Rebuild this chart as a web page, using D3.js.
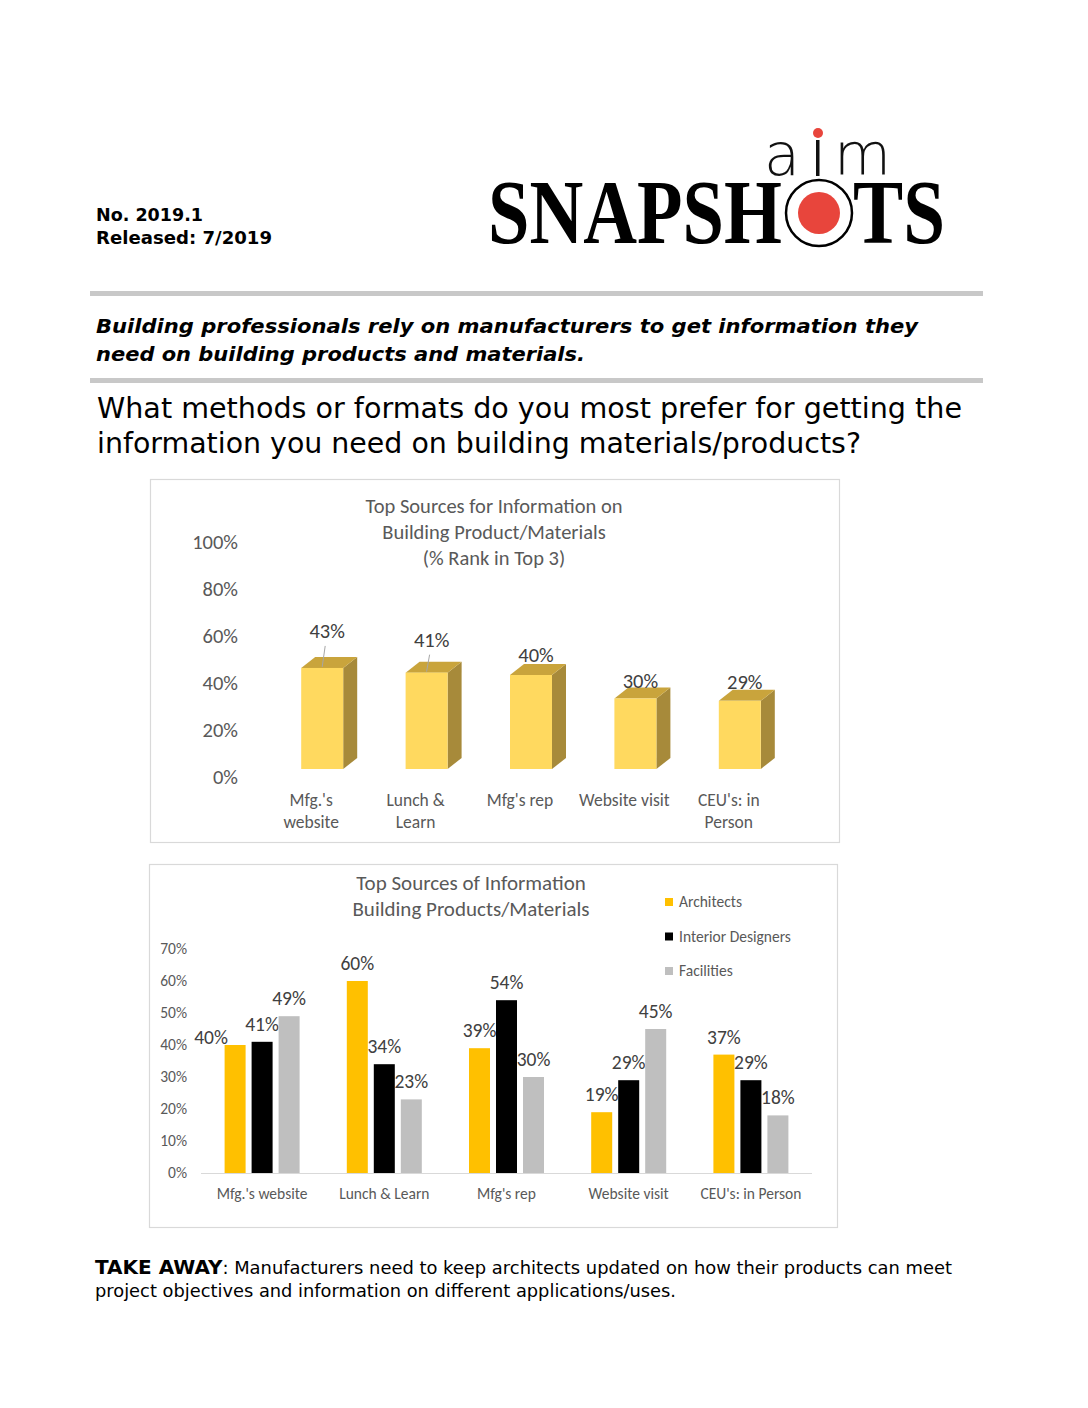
<!DOCTYPE html>
<html>
<head>
<meta charset="utf-8">
<script src="https://cdn.jsdelivr.net/npm/d3@7"></script>
<style>
  html, body { margin: 0; padding: 0; background: #fff; }
  svg { display: block; }
</style>
</head>
<body>
<svg id="page" width="1088" height="1408"></svg>
<script>
// ---------------- DATA ----------------
const chart1Title = ["Top Sources for Information on", "Building Product/Materials", "(% Rank in Top 3)"];
const chart1Categories = [["Mfg.'s", "website"], ["Lunch &", "Learn"], ["Mfg's rep"], ["Website visit"], ["CEU's: in", "Person"]];
const chart1Values = [0.43, 0.41, 0.40, 0.30, 0.29];
const chart1Ticks = [0, 0.2, 0.4, 0.6, 0.8, 1.0];

const chart2Title = ["Top Sources of Information", "Building Products/Materials"];
const chart2Categories = ["Mfg.'s website", "Lunch & Learn", "Mfg's rep", "Website visit", "CEU's: in Person"];
const seriesNames = ["Architects", "Interior Designers", "Facilities"];
const architects = [0.40, 0.60, 0.39, 0.19, 0.37];
const interiorDesigners = [0.41, 0.34, 0.54, 0.29, 0.29];
const facilities = [0.49, 0.23, 0.30, 0.45, 0.18];
const chart2Ticks = [0, 0.1, 0.2, 0.3, 0.4, 0.5, 0.6, 0.7];

const seriesColors = ["#FFC000", "#000000", "#BFBFBF"];

// ---------------- PAGE ----------------
const svg = d3.select("#page");
const verdana = "Verdana, 'DejaVu Sans', sans-serif";
const calibri = "Carlito, Calibri, Lato, 'Open Sans', sans-serif";

// Header left
svg.append("text").attr("x", 96).attr("y", 221).attr("font-family", verdana)
  .attr("font-weight", "bold").attr("font-size", 17).attr("fill", "#000")
  .attr("textLength", 107).attr("lengthAdjust", "spacingAndGlyphs").text("No. 2019.1");
svg.append("text").attr("x", 96).attr("y", 244).attr("font-family", verdana)
  .attr("font-weight", "bold").attr("font-size", 17).attr("fill", "#000")
  .attr("textLength", 176).attr("lengthAdjust", "spacingAndGlyphs").text("Released: 7/2019");

// Logo
const logo = svg.append("g");
logo.append("text").attr("x", 764).attr("y", 175).attr("font-family", "'DejaVu Sans', sans-serif")
  .attr("font-weight", 200).attr("font-size", 58).attr("fill", "#111")
  .attr("textLength", 36).attr("lengthAdjust", "spacingAndGlyphs").text("a");
logo.append("rect").attr("x", 816).attr("y", 140).attr("width", 3.5).attr("height", 36).attr("fill", "#111");
logo.append("circle").attr("cx", 818).attr("cy", 133).attr("r", 5).attr("fill", "#E8453C");
logo.append("text").attr("x", 834).attr("y", 175).attr("font-family", "'DejaVu Sans', sans-serif")
  .attr("font-weight", 200).attr("font-size", 58).attr("fill", "#111")
  .attr("textLength", 57).attr("lengthAdjust", "spacingAndGlyphs").text("m");
logo.append("text").attr("x", 488).attr("y", 243).attr("font-family", "'Liberation Serif', 'DejaVu Serif', serif")
  .attr("font-weight", "bold").attr("font-size", 92).attr("fill", "#000")
  .attr("textLength", 294).attr("lengthAdjust", "spacingAndGlyphs").text("SNAPSH");
logo.append("text").attr("x", 853).attr("y", 243).attr("font-family", "'Liberation Serif', 'DejaVu Serif', serif")
  .attr("font-weight", "bold").attr("font-size", 92).attr("fill", "#000")
  .attr("textLength", 92).attr("lengthAdjust", "spacingAndGlyphs").text("TS");
logo.append("circle").attr("cx", 819).attr("cy", 213).attr("r", 33).attr("fill", "none")
  .attr("stroke", "#000").attr("stroke-width", 2.5);
logo.append("circle").attr("cx", 819).attr("cy", 213).attr("r", 21).attr("fill", "#E8453C");

// Rules
svg.append("rect").attr("x", 90).attr("y", 291).attr("width", 893).attr("height", 5).attr("fill", "#C8C8C8");
svg.append("rect").attr("x", 90).attr("y", 378).attr("width", 893).attr("height", 5).attr("fill", "#C8C8C8");

// Intro bold italic
svg.append("text").attr("x", 96).attr("y", 333).attr("font-family", verdana).attr("font-weight", "bold")
  .attr("font-style", "italic").attr("font-size", 20).attr("textLength", 822).attr("lengthAdjust", "spacingAndGlyphs")
  .text("Building professionals rely on manufacturers to get information they");
svg.append("text").attr("x", 96).attr("y", 361).attr("font-family", verdana).attr("font-weight", "bold")
  .attr("font-style", "italic").attr("font-size", 20).attr("textLength", 489).attr("lengthAdjust", "spacingAndGlyphs")
  .text("need on building products and materials.");

// Question
svg.append("text").attr("x", 97).attr("y", 418).attr("font-family", verdana)
  .attr("font-size", 28).attr("textLength", 865).attr("lengthAdjust", "spacingAndGlyphs")
  .text("What methods or formats do you most prefer for getting the");
svg.append("text").attr("x", 97).attr("y", 453).attr("font-family", verdana)
  .attr("font-size", 28).attr("textLength", 764).attr("lengthAdjust", "spacingAndGlyphs")
  .text("information you need on building materials/products?");

// ---------------- CHART 1 (3D columns) ----------------
const c1 = svg.append("g");
c1.append("rect").attr("x", 150.5).attr("y", 479.5).attr("width", 689).attr("height", 363)
  .attr("fill", "#fff").attr("stroke", "#D9D9D9").attr("stroke-width", 1.2);

chart1Title.forEach((t, i) => {
  c1.append("text").attr("x", 494).attr("y", 513 + i * 26).attr("text-anchor", "middle")
    .attr("font-family", calibri).attr("font-size", 20.5).attr("fill", "#595959").text(t);
});

const y1 = d3.scaleLinear().domain([0, 1]).range([769, 534]);
const x1 = d3.scalePoint().domain(d3.range(chart1Values.length)).range([270, 792]).padding(0.5);
const frontW = 42, depthX = 14, depthY = 11;

// axis (labels only), offset a little below floor as in 3D projection
const ax1 = c1.append("g").attr("transform", "translate(238,8)")
  .call(d3.axisLeft(y1).tickValues(chart1Ticks).tickFormat(d3.format(".0%")).tickSize(0).tickPadding(0));
ax1.select(".domain").remove();
ax1.selectAll("text").attr("font-family", calibri).attr("font-size", 20.5).attr("fill", "#595959");

const bars1 = c1.selectAll("g.bar3d").data(chart1Values).join("g").attr("class", "bar3d");
bars1.each(function(v, i) {
  const g = d3.select(this);
  const xl = x1(i) - frontW / 2, xr = xl + frontW;
  const yt = y1(v), yb = y1(0);
  g.append("path").attr("d", `M${xr},${yb} L${xr + depthX},${yb - depthY} L${xr + depthX},${yt - depthY} L${xr},${yt} Z`)
    .attr("fill", "#A78A3A");
  g.append("path").attr("d", `M${xl},${yt} L${xl + depthX},${yt - depthY} L${xr + depthX},${yt - depthY} L${xr},${yt} Z`)
    .attr("fill", "#C9A43C");
  g.append("rect").attr("x", xl).attr("y", yt).attr("width", frontW).attr("height", yb - yt).attr("fill", "#FFD95F");
});

// value labels (Excel moved the first two up with leader lines)
const c1LabelLift = [30, 26, 13, 11, 12];
chart1Values.forEach((v, i) => {
  const cx = x1(i) + 5;
  const ly = y1(v) - c1LabelLift[i];
  if (c1LabelLift[i] > 20) {
    c1.append("line").attr("x1", cx - 2).attr("y1", ly + 8).attr("x2", x1(i)).attr("y2", y1(v) - 1)
      .attr("stroke", "#A6A6A6").attr("stroke-width", 1);
  }
  c1.append("text").attr("x", cx).attr("y", ly).attr("text-anchor", "middle")
    .attr("font-family", calibri).attr("font-size", 20.5).attr("fill", "#404040").text(d3.format(".0%")(v));
});

// category labels
chart1Categories.forEach((lines, i) => {
  lines.forEach((t, j) => {
    c1.append("text").attr("x", x1(i) - 11).attr("y", 806 + j * 22).attr("text-anchor", "middle")
      .attr("font-family", calibri).attr("font-size", 17.5).attr("fill", "#595959").text(t);
  });
});

// ---------------- CHART 2 (clustered columns) ----------------
const c2 = svg.append("g");
c2.append("rect").attr("x", 149.5).attr("y", 864.5).attr("width", 688).attr("height", 363)
  .attr("fill", "#fff").attr("stroke", "#D9D9D9").attr("stroke-width", 1.2);

chart2Title.forEach((t, i) => {
  c2.append("text").attr("x", 471).attr("y", 890 + i * 26).attr("text-anchor", "middle")
    .attr("font-family", calibri).attr("font-size", 21).attr("fill", "#595959").text(t);
});

const y2 = d3.scaleLinear().domain([0, 0.7]).range([1173, 949]);
const x2 = d3.scaleBand().domain(chart2Categories).range([201, 812]);
const xs = d3.scaleBand().domain(seriesNames).range([0, 75]).paddingInner(0.222);

const ax2 = c2.append("g").attr("transform", "translate(187,0)")
  .call(d3.axisLeft(y2).tickValues(chart2Ticks).tickFormat(d3.format(".0%")).tickSize(0).tickPadding(0));
ax2.select(".domain").remove();
ax2.selectAll("text").attr("font-family", calibri).attr("font-size", 15.5).attr("fill", "#595959");

c2.append("line").attr("x1", 201).attr("x2", 812).attr("y1", y2(0) + 0.5).attr("y2", y2(0) + 0.5)
  .attr("stroke", "#D9D9D9").attr("stroke-width", 1);

const seriesData = [architects, interiorDesigners, facilities];
// small Excel-style label nudge for the first label (avoids overlap)
const labelNudgeX = { "0-0": -24 };
const labelNudgeY = { "0-0": 10 };
seriesData.forEach((vals, s) => {
  const g = c2.append("g");
  g.selectAll("rect").data(vals).join("rect")
    .attr("x", (d, i) => x2(chart2Categories[i]) + x2.bandwidth() / 2 - 37.5 + xs(seriesNames[s]))
    .attr("y", d => y2(d))
    .attr("width", xs.bandwidth())
    .attr("height", d => y2(0) - y2(d))
    .attr("fill", seriesColors[s]);
  g.selectAll("text").data(vals).join("text")
    .attr("x", (d, i) => x2(chart2Categories[i]) + x2.bandwidth() / 2 - 37.5 + xs(seriesNames[s]) + xs.bandwidth() / 2
      + (labelNudgeX[s + "-" + i] || 0))
    .attr("y", (d, i) => y2(d) - 11 + (labelNudgeY[s + "-" + i] || 0))
    .attr("text-anchor", "middle")
    .attr("font-family", calibri).attr("font-size", 19.5).attr("fill", "#404040")
    .text(d => d3.format(".0%")(d));
});

chart2Categories.forEach(c => {
  c2.append("text").attr("x", x2(c) + x2.bandwidth() / 2).attr("y", 1199).attr("text-anchor", "middle")
    .attr("font-family", calibri).attr("font-size", 15.5).attr("fill", "#595959").text(c);
});

// legend
seriesNames.forEach((n, i) => {
  const ly = 902 + i * 34.5;
  c2.append("rect").attr("x", 665).attr("y", ly - 4).attr("width", 8).attr("height", 8).attr("fill", seriesColors[i]);
  c2.append("text").attr("x", 679).attr("y", ly + 5).attr("font-family", calibri)
    .attr("font-size", 15.5).attr("fill", "#595959").text(n);
});

// ---------------- TAKE AWAY ----------------
const ta = svg.append("text").attr("x", 95).attr("y", 1274).attr("font-family", verdana).attr("font-size", 17)
  .attr("fill", "#000").attr("textLength", 857).attr("lengthAdjust", "spacingAndGlyphs");
ta.append("tspan").attr("font-weight", "bold").attr("font-size", 19).text("TAKE AWAY");
ta.append("tspan").text(": Manufacturers need to keep architects updated on how their products can meet");
svg.append("text").attr("x", 95).attr("y", 1297).attr("font-family", verdana).attr("font-size", 17)
  .attr("fill", "#000").attr("textLength", 581).attr("lengthAdjust", "spacingAndGlyphs")
  .text("project objectives and information on different applications/uses.");
</script>
</body>
</html>
